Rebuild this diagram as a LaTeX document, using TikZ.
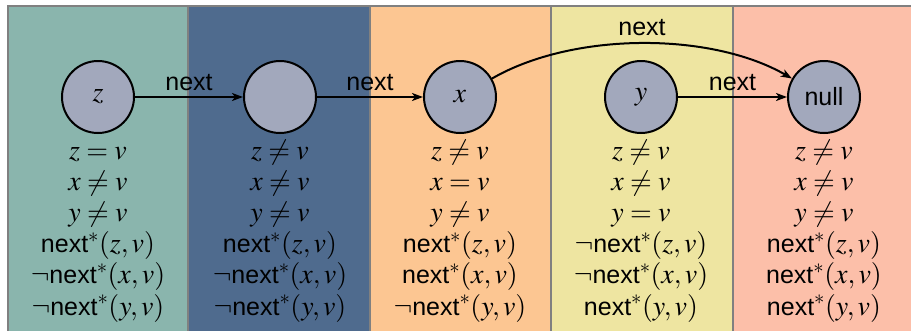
\documentclass[tikz,border=0pt]{standalone}
\usepackage{mathptmx}
\usepackage{fontspec}
\setmainfont{Liberation Sans}
\usetikzlibrary{arrows.meta}
\definecolor{colA}{HTML}{8AB5AD}
\definecolor{colB}{HTML}{4F6B8E}
\definecolor{colC}{HTML}{FCC692}
\definecolor{colD}{HTML}{EEE5A1}
\definecolor{colE}{HTML}{FCBFA9}
\definecolor{circfill}{HTML}{A2A8BC}
\definecolor{bordergray}{HTML}{808080}
\newcommand\NX{{\fontsize{25}{30}\selectfont next}}
\begin{document}
\begin{tikzpicture}[x=1pt,y=-1pt,
  colbox/.style={draw=bordergray,line width=1.5pt},
  cell/.style={circle,draw=black,line width=2pt,fill=circfill,minimum size=72pt,inner sep=0pt,font=\fontsize{28}{30}\selectfont},
  fact/.style={anchor=base,inner sep=0pt,font=\fontsize{28}{31}\selectfont},
  lbl/.style={font=\fontsize{25}{30}\selectfont,inner sep=2pt},
  link/.style={line width=2pt,-{Stealth[length=11pt,width=8pt,inset=3pt]}}]
\clip (0,0) rectangle (911,330);
\fill[white] (0,0) rectangle (911,330);
\draw[colbox,fill=colA] (8,6) rectangle (188,345);
\draw[colbox,fill=colB] (188,6) rectangle (370,345);
\draw[colbox,fill=colC] (370,6) rectangle (551,345);
\draw[colbox,fill=colD] (551,6) rectangle (733,345);
\draw[colbox,fill=colE] (733,6) rectangle (920,345);

\node[cell] (z) at (98,97) {$z$};
\node[cell] (m) at (280,97) {};
\node[cell] (x) at (460,97) {$x$};
\node[cell] (y) at (641,97) {$y$};
\node[cell,font=\fontsize{25}{30}\selectfont] (null) at (824,97) {null};

\draw[link] (z) -- node[lbl,midway,above=3pt] (l1) {next} (m);
\draw[link] (m) -- node[lbl,midway,above=3pt] (l2) {next} (x);
\draw[link] (y) -- node[lbl,midway,above=3pt] (l3) {next} (null);
\draw[link] (x.30) to[out=30,in=150,looseness=0.8] node[lbl,midway,above=5pt] (l4) {next} (null.150);

% column 1
\node[fact] (a1) at (98,159) {$z = v$};
\node[fact] (a2) at (98,190.2) {$x \neq v$};
\node[fact] (a3) at (98,221.4) {$y \neq v$};
\node[fact] (a4) at (98,252.6) {\NX$^*(z,v)$};
\node[fact] (a5) at (98,283.8) {$\neg$\NX$^*(x,v)$};
\node[fact] (a6) at (98,315) {$\neg$\NX$^*(y,v)$};
% column 2
\node[fact] (b1) at (280,159) {$z \neq v$};
\node[fact] (b2) at (280,190.2) {$x \neq v$};
\node[fact] (b3) at (280,221.4) {$y \neq v$};
\node[fact] (b4) at (280,252.6) {\NX$^*(z,v)$};
\node[fact] (b5) at (280,283.8) {$\neg$\NX$^*(x,v)$};
\node[fact] (b6) at (280,315) {$\neg$\NX$^*(y,v)$};
% column 3
\node[fact] (c1) at (460,159) {$z \neq v$};
\node[fact] (c2) at (460,190.2) {$x = v$};
\node[fact] (c3) at (460,221.4) {$y \neq v$};
\node[fact] (c4) at (460,252.6) {\NX$^*(z,v)$};
\node[fact] (c5) at (460,283.8) {\NX$^*(x,v)$};
\node[fact] (c6) at (460,315) {$\neg$\NX$^*(y,v)$};
% column 4
\node[fact] (d1) at (641,159) {$z \neq v$};
\node[fact] (d2) at (641,190.2) {$x \neq v$};
\node[fact] (d3) at (641,221.4) {$y = v$};
\node[fact] (d4) at (641,252.6) {$\neg$\NX$^*(z,v)$};
\node[fact] (d5) at (641,283.8) {$\neg$\NX$^*(x,v)$};
\node[fact] (d6) at (641,315) {\NX$^*(y,v)$};
% column 5
\node[fact] (e1) at (824,159) {$z \neq v$};
\node[fact] (e2) at (824,190.2) {$x \neq v$};
\node[fact] (e3) at (824,221.4) {$y \neq v$};
\node[fact] (e4) at (824,252.6) {\NX$^*(z,v)$};
\node[fact] (e5) at (824,283.8) {\NX$^*(x,v)$};
\node[fact] (e6) at (824,315) {\NX$^*(y,v)$};
\end{tikzpicture}
\end{document}
